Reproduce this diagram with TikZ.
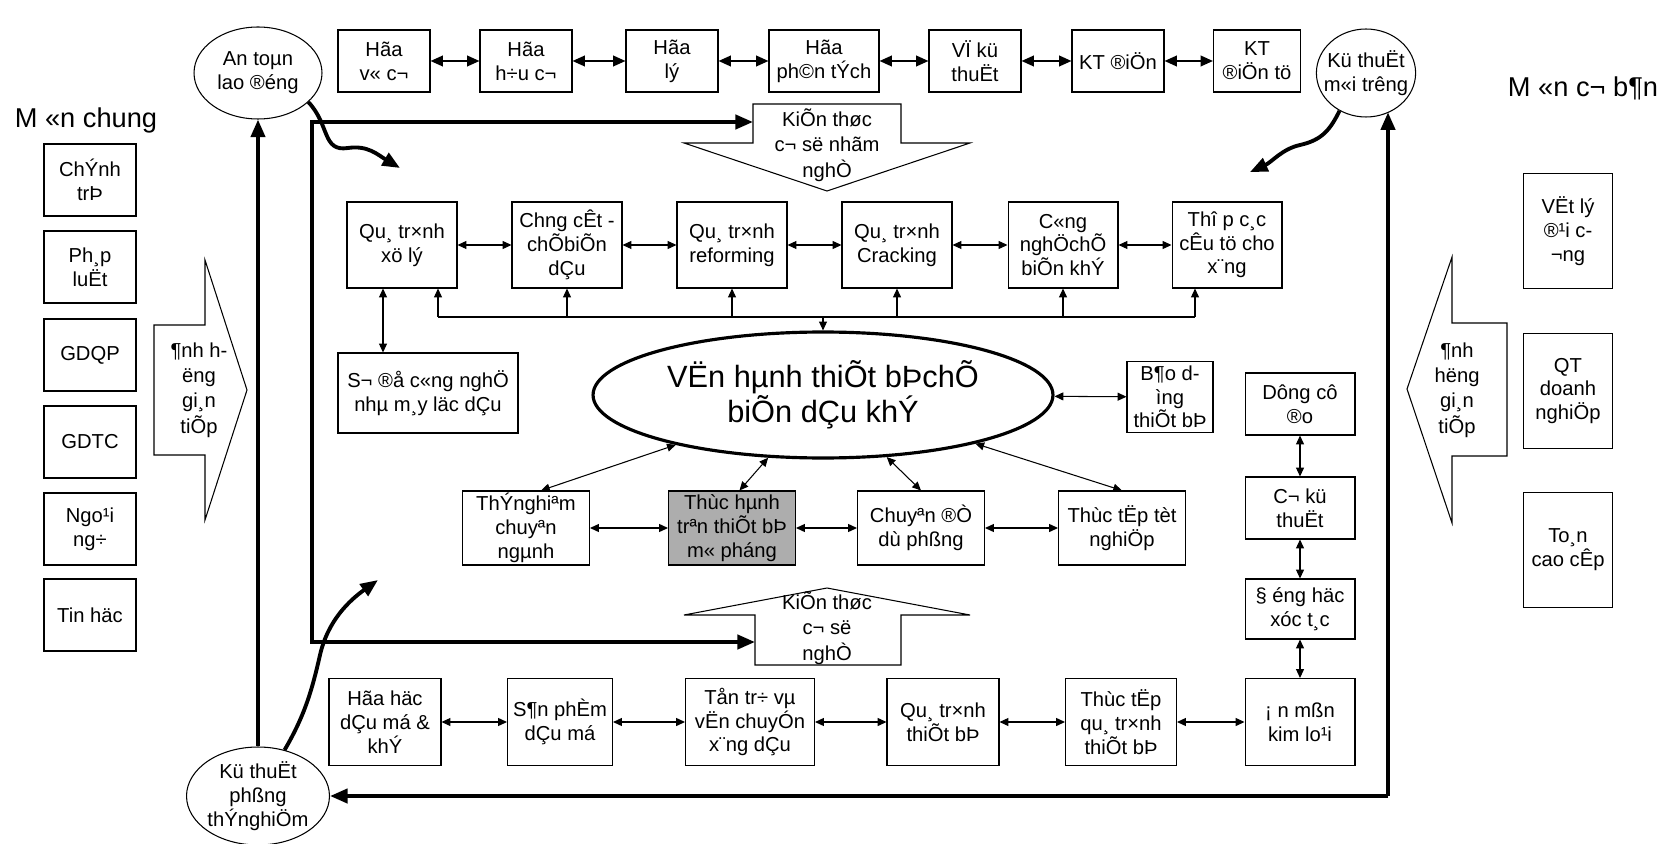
\documentclass[tikz,border=0pt]{standalone}
\usepackage{fontspec}
\setmainfont{Liberation Sans}
\usetikzlibrary{arrows.meta,shapes.geometric}

\tikzset{
  box/.style={draw, line width=0.6pt, fill=white, align=center, inner sep=1pt,
    font=\fontsize{11.5}{13.5}\selectfont},
  oval/.style={draw, ellipse, line width=0.6pt, align=center, inner sep=0pt,
    font=\fontsize{11.5}{13.5}\selectfont},
  blockar/.style={draw, line width=0.6pt, fill=white},
  blocktxt/.style={align=center, inner sep=0pt, font=\fontsize{11.5}{14.5}\selectfont},
  link/.style={line width=0.6pt, {Triangle[length=5pt,width=4.5pt]}-{Triangle[length=5pt,width=4.5pt]}},
  toplink/.style={line width=1.1pt, {Triangle[length=7pt,width=6pt]}-{Triangle[length=7pt,width=6pt]}},
  feed/.style={line width=0.6pt, -{Triangle[length=5pt,width=4.5pt]}},
  heavy/.style={line width=2.2pt, -{Triangle[length=10pt,width=8pt]}},
}

\begin{document}
\begin{tikzpicture}[x=0.02cm, y=-0.02cm]
    \useasboundingbox (0,0) rectangle (1662,844);

    % Titles
    \node[font=\fontsize{15.5}{18}\selectfont] (chung) at (86,120) {M «n chung};
    \node[font=\fontsize{15.5}{18}\selectfont] (coban) at (1583,88) {M «n c¬ b¶n};

    % Top row of subjects
    \node[box, minimum width=1.84cm, minimum height=1.24cm] (hvc) at (384,61) {Hãa\\v« c¬};
    \node[box, minimum width=1.84cm, minimum height=1.24cm] (hhc) at (526,61) {Hãa\\h÷u c¬};
    \node[box, minimum width=1.84cm, minimum height=1.24cm] (hly) at (672,61) {Hãa\\lý};
    \node[box, minimum width=2.2cm, minimum height=1.24cm] (hpt) at (824,61) {Hãa\\ph©n tÝch};
    \node[box, minimum width=1.84cm, minimum height=1.24cm] (vkt) at (975,61) {VÏ kü\\thuËt};
    \node[box, minimum width=1.84cm, minimum height=1.24cm] (ktd) at (1118,61) {KT ®iÖn};
    \node[box, minimum width=1.74cm, minimum height=1.24cm] (ktdt) at (1257,61) {KT\\®iÖn tö};
    \draw[toplink] (hvc) -- (hhc);
    \draw[toplink] (hhc) -- (hly);
    \draw[toplink] (hly) -- (hpt);
    \draw[toplink] (hpt) -- (vkt);
    \draw[toplink] (vkt) -- (ktd);
    \draw[toplink] (ktd) -- (ktdt);

    % Ellipses
    \node[oval, minimum width=2.56cm, minimum height=1.84cm] (antoan) at (258,73) {An toµn\\lao ®éng};
    \node[oval, inner xsep=-4pt, minimum width=1.88cm, minimum height=1.76cm] (kythuatmt) at (1366,73) {Kü thuËt\\m«i trêng};
    \node[oval, minimum width=2.72cm, minimum height=1.96cm] (kythuatpt) at (258,796) {Kü thuËt\\phßng\\thÝnghiÖm};

    % General subjects (left)
    \node[box, minimum width=1.84cm, minimum height=1.44cm] (chinhtri) at (90,180) {ChÝnh\\trÞ};
    \node[box, minimum width=1.84cm, minimum height=1.44cm] (phapluat) at (90,267) {Ph¸p\\luËt};
    \node[box, minimum width=1.84cm, minimum height=1.44cm] (gdqp) at (90,355) {GDQP};
    \node[box, minimum width=1.84cm, minimum height=1.44cm] (gdtc) at (90,442) {GDTC};
    \node[box, minimum width=1.84cm, minimum height=1.44cm] (ngoaingu) at (90,529) {Ngo¹i\\ng÷};
    \node[box, minimum width=1.84cm, minimum height=1.44cm] (tinhoc) at (90,615) {Tin häc};

    % Basic subjects (right)
    \node[box, minimum width=1.78cm, minimum height=2.3cm] (vatly) at (1568,231) {VËt lý\\®¹i c-\\¬ng};
    \node[box, minimum width=1.78cm, minimum height=2.3cm] (qtdn) at (1568,391) {QT\\doanh\\nghiÖp};
    \node[box, minimum width=1.78cm, minimum height=2.3cm] (toan) at (1568,550) {To¸n\\cao cÊp};

    % Block arrows
    \draw[blockar] (154,325) -- (205,325) -- (205,260) -- (247,390) -- (205,520) -- (205,455) -- (154,455) -- cycle;
    \node[blocktxt] (huongtrai) at (199,390) {¶nh h-\\ëng\\gi¸n\\tiÕp};
    \draw[blockar] (1507,323) -- (1452,323) -- (1452,257) -- (1407,389) -- (1452,523) -- (1452,456) -- (1507,456) -- cycle;
    \node[blocktxt] (huongphai) at (1457,390) {¶nh\\hëng\\gi¸n\\tiÕp};
    \draw[blockar] (753,104) -- (901,104) -- (901,143) -- (970,143) -- (827,191) -- (684,143) -- (753,143) -- cycle;
    \node[blocktxt] (kthuc1) at (827,145) {KiÕn thøc\\c¬ së nhãm\\nghÒ};
    \draw[blockar] (827,588) -- (970,615) -- (901,615) -- (901,665) -- (755,665) -- (755,615) -- (684,615) -- cycle;
    \node[blocktxt] (kthuc2) at (827,628) {KiÕn thøc\\c¬ së\\nghÒ};

    % Process row
    \node[box, minimum width=2.2cm, minimum height=1.72cm] (xuly) at (402,245) {Qu¸ tr×nh\\xö lý};
    \node[box, minimum width=2.2cm, minimum height=1.72cm] (chungcat) at (567,245) {Chng cÊt -\\chÕbiÕn\\dÇu};
    \node[box, minimum width=2.2cm, minimum height=1.72cm] (reform) at (732,245) {Qu¸ tr×nh\\reforming};
    \node[box, minimum width=2.2cm, minimum height=1.72cm] (crack) at (897,245) {Qu¸ tr×nh\\Cracking};
    \node[box, minimum width=2.2cm, minimum height=1.72cm] (congnghe) at (1063,245) {C«ng\\nghÖchÕ\\biÕn khÝ};
    \node[box, minimum width=2.2cm, minimum height=1.72cm] (thop) at (1227,245) {Thî p c¸c\\cÊu tö cho\\x¨ng};
    \draw[link] (xuly) -- (chungcat);
    \draw[link] (chungcat) -- (reform);
    \draw[link] (reform) -- (crack);
    \draw[link] (crack) -- (congnghe);
    \draw[link] (congnghe) -- (thop);

    % Centre
    \node[oval, line width=1.8pt, minimum width=9.2cm, minimum height=2.52cm,
      font=\fontsize{17.5}{20}\selectfont] (vanhanh) at (823,395) {VËn hµnh thiÕt bÞchÕ\\biÕn dÇu khÝ};
    \node[box, minimum width=3.6cm, minimum height=1.6cm] (sodo) at (428,393) {S¬ ®å c«ng nghÖ\\nhµ m¸y läc dÇu};
    \node[box, minimum width=1.72cm, minimum height=1.42cm] (baoduong) at (1170,397) {B¶o d-\\ìng\\thiÕt bÞ};

    % Bus to the process row
    \coordinate (busL) at (438,317);
    \coordinate (busR) at (1195,317);
    \draw[line width=0.6pt] (busL) -- (busR);
    \draw[feed] (busL) -- (busL |- xuly.south);
    \draw[feed] (chungcat.south |- busL) -- (chungcat.south);
    \draw[feed] (reform.south |- busL) -- (reform.south);
    \draw[feed] (crack.south |- busL) -- (crack.south);
    \draw[feed] (congnghe.south |- busL) -- (congnghe.south);
    \draw[feed] (busR) -- (busR |- thop.south);
    \draw[feed] (vanhanh.north |- busL) -- (vanhanh.north);
    \draw[link] ([xshift=-0.38cm]xuly.south) -- ([xshift=-0.38cm]xuly.south |- sodo.north);
    \draw[link] (vanhanh) -- (baoduong);

    % Practice row
    \node[box, minimum width=2.54cm, minimum height=1.48cm] (thinghiem) at (526,528) {ThÝnghiªm\\chuyªn\\ngµnh};
    \node[box, fill=black!32, minimum width=2.54cm, minimum height=1.48cm] (thuchanh) at (732,528) {Thùc hµnh\\trªn thiÕt bÞ\\m« pháng};
    \node[box, minimum width=2.54cm, minimum height=1.48cm] (chuyende) at (921,528) {Chuyªn ®Ò\\dù phßng};
    \node[box, minimum width=2.54cm, minimum height=1.48cm] (thuctap) at (1122,528) {Thùc tËp tèt\\nghiÖp};
    \draw[link] (thinghiem) -- (thuchanh);
    \draw[link] (thuchanh) -- (chuyende);
    \draw[link] (chuyende) -- (thuctap);
    \draw[link] (vanhanh) -- ([xshift=0.3cm]thinghiem.north);
    \draw[link] (vanhanh) -- ([xshift=0.15cm]thuchanh.north);
    \draw[link] (vanhanh) -- (chuyende.north);
    \draw[link] (vanhanh) -- (thuctap.north);

    % Right column
    \node[box, minimum width=2.2cm, minimum height=1.24cm] (dungcu) at (1300,404) {Dông cô\\®o};
    \node[box, minimum width=2.2cm, minimum height=1.24cm] (cokt) at (1300,508) {C¬ kü\\thuËt};
    \node[box, minimum width=2.2cm, minimum height=1.2cm] (donghoc) at (1300,609) {§ éng häc\\xóc t¸c};
    \node[box, minimum width=2.2cm, minimum height=1.74cm] (anmon) at (1300,722) {¡ n mßn\\kim lo¹i};
    \draw[link] (dungcu) -- (cokt);
    \draw[link] (cokt) -- (donghoc);
    \draw[link] (donghoc) -- (anmon);

    % Bottom row
    \node[box, minimum width=2.24cm, minimum height=1.74cm] (hhdm) at (385,722) {Hãa häc\\dÇu má \&\\khÝ};
    \node[box, minimum width=2.1cm, minimum height=1.74cm] (sanpham) at (560,722) {S¶n phÈm\\dÇu má};
    \node[box, minimum width=2.58cm, minimum height=1.74cm] (tontru) at (750,722) {Tån tr÷ vµ\\vËn chuyÓn\\x¨ng dÇu};
    \node[box, minimum width=2.24cm, minimum height=1.74cm] (qttb) at (943,722) {Qu¸ tr×nh\\thiÕt bÞ};
    \node[box, minimum width=2.22cm, minimum height=1.74cm] (ttqt) at (1121,722) {Thùc tËp\\qu¸ tr×nh\\thiÕt bÞ};
    \draw[link] (hhdm) -- (sanpham);
    \draw[link] (sanpham) -- (tontru);
    \draw[link] (tontru) -- (qttb);
    \draw[link] (qttb) -- (ttqt);
    \draw[link] (ttqt) -- (anmon);

    % Heavy frame lines
    \coordinate (kdL) at (753,122);
    \coordinate (kuL) at (755,642);
    \coordinate (innerB) at (312,642);
    \draw[heavy, {Triangle[length=10pt,width=8pt]}-{Triangle[length=10pt,width=8pt]}] (kdL) -| (innerB) -- (kuL);
    \coordinate (corner) at (1388,796);
    \draw[heavy] (corner) -- (kythuatpt);
    \draw[heavy] (corner) -- (corner |- kythuatmt.-59);
    \draw[heavy] (kythuatpt) -- (antoan);

    % Wavy arrows
    \draw[heavy] (antoan.-30) .. controls (330,125) and (322,152) .. (348,148) .. controls (368,145) and (378,155) .. (400,168);
    \draw[heavy] (kythuatmt.-125) .. controls (1330,130) and (1322,140) .. (1300,145) .. controls (1282,149) and (1272,162) .. (1250,172);
    \draw[heavy] (kythuatpt.60) .. controls (305,715) and (312,690) .. (320,655) .. controls (328,620) and (350,600) .. (378,580);
\end{tikzpicture}
\end{document}
